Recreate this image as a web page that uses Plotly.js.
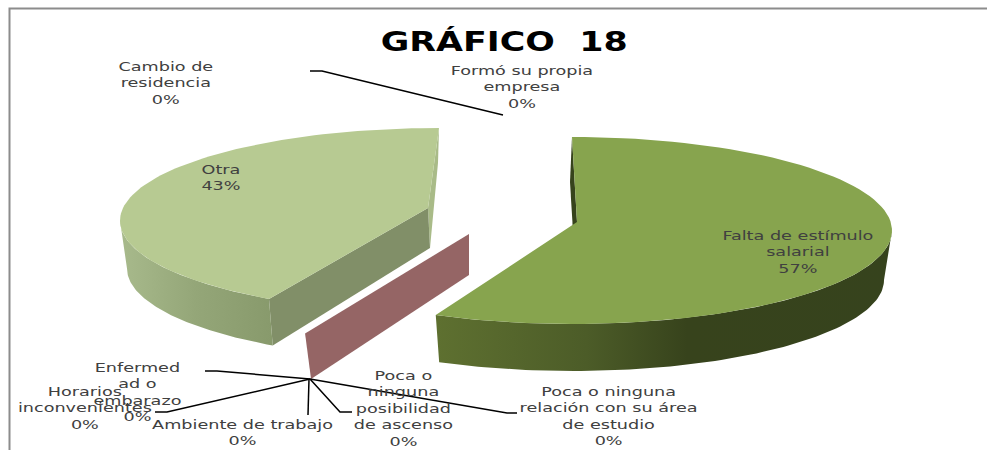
<!DOCTYPE html>
<html><head><meta charset="utf-8">
<script src="https://cdn.plot.ly/plotly-3.0.1.min.js"></script>
<style>html,body{margin:0;padding:0;background:#fff}#c{width:987px;height:450px}</style>
</head><body><div id="c"></div>
<script>
const categories = ["Falta de estímulo salarial","Otra","Poca o ninguna relación con su área de estudio"];
const values = [57,43,0];
const topColors = ["#87A44E","#B7CA92"];
const slices = [
 {top:{cx:572,cy:230.5,rx:320,ry:93.5},bot:{cx:572,cy:280,rx:312,ry:91},apex:[577,222],offset:[0,0],
  wall:[[0,"#5E7030"],[0.33,"#4C5C28"],[0.55,"#37431C"],[1,"#36431D"]],inner:"#36431C",cut:"#5E7030"},
 {top:{cx:439,cy:220.6,rx:319,ry:92.6},bot:{cx:439,cy:268.5,rx:312,ry:91},apex:[428,208],offset:[7,0],
  wall:[[0,"#A8BA8C"],[0.5,"#94A678"],[1,"#889A6C"]],inner:"#A9BB88",cut:"#818F68"}
];
const title = "GRÁFICO  18";
const labels = [
 {t:"Cambio de<br>residencia<br>0%",x:166,y:83},
 {t:"Formó su propia<br>empresa<br>0%",x:522,y:87},
 {t:"Otra<br>43%",x:221,y:177},
 {t:"Falta de estímulo<br>salarial<br>57%",x:798,y:252},
 {t:"Enfermed<br>ad o<br>embarazo<br>0%",x:137,y:392},
 {t:"Horarios<br>inconvenientes<br>0%",x:85,y:408},
 {t:"Ambiente de trabajo<br>0%",x:243,y:432},
 {t:"Poca o<br>ninguna<br>posibilidad<br>de ascenso<br>0%",x:403,y:408},
 {t:"Poca o ninguna<br>relación con su área<br>de estudio<br>0%",x:608,y:416}
];
const leaders = [
 [[310,322,503],[71,71,115]],
 [[205,217,310],[371,371,379]],
 [[155,167,310],[412,412,379]],
 [[308,309],[415,379]],
 [[352,340,310],[412,412,379]],
 [[517,507,310],[413,413,379]]
];
const D = Math.PI/180, STEPS = 90;
function pt(e,deg){return [e.cx+e.rx*Math.sin(deg*D), e.cy-e.ry*Math.cos(deg*D)];}
function arc(e,a,b){const o=[];for(let i=0;i<=STEPS;i++){o.push(pt(e,a+(b-a)*i/STEPS));}return o;}
function poly(points,fill,extra){const xs=points.map(p=>p[0]),ys=points.map(p=>p[1]);xs.push(xs[0]);ys.push(ys[0]);
 return Object.assign({type:"scatter",mode:"lines",x:xs,y:ys,fill:"toself",fillcolor:fill,line:{width:0,color:fill},hoverinfo:"skip",showlegend:false},extra||{});}
const total = values.reduce((a,b)=>a+b,0);
const traces = [];
let cum = 0;
const angles = values.map(v=>{const a=cum/total*360;cum+=v;return [a,cum/total*360];});
const zeroA = angles[0][1];
(function(){
 const tE={cx:469,cy:234,rx:385,ry:110}, bE={cx:469,cy:275,rx:371,ry:115};
 traces.push(poly([[tE.cx,tE.cy],[bE.cx,bE.cy],pt(bE,zeroA),pt(tE,zeroA)],"#956565"));
})();
(function(){
 const s=slices[1],a=angles[1][0]+s.offset[0],b=angles[1][1];
 const tEnd=pt(s.top,b), tA=pt(s.top,a), bA=pt(s.bot,a);
 const apexB=[430,248];
 traces.push(poly([tEnd,[438,163],apexB,s.apex],s.inner));
 traces.push(poly([tA,bA,apexB,s.apex],s.cut));
 const wallPts=arc(s.top,a,270).concat(arc(s.bot,a,270).reverse());
 traces.push(poly(wallPts,s.wall[0][1],{fillgradient:{type:"horizontal",colorscale:s.wall.slice(),start:120,stop:272}}));
 traces.push(poly([s.apex].concat(arc(s.top,a,b)),topColors[1]));
})();
(function(){
 const s=slices[0],a=angles[0][0],b=angles[0][1];
 traces.push(poly([pt(s.top,a),[570,182],[575,265],s.apex],s.inner));
 const wallPts=arc(s.top,90,b).concat(arc(s.bot,90,b).reverse());
 traces.push(poly(wallPts,s.wall[0][1],{fillgradient:{type:"horizontal",colorscale:s.wall.slice().reverse().map(c=>[1-c[0],c[1]]),start:892,stop:437}}));
 traces.push(poly([s.apex].concat(arc(s.top,a,b)),topColors[0]));
})();
leaders.forEach(l=>traces.push({type:"scatter",mode:"lines",x:l[0],y:l[1],line:{color:"#000",width:1.5},hoverinfo:"skip",showlegend:false}));
const annotations = labels.map(l=>({x:l.x,y:l.y,xref:"x",yref:"y",text:l.t,showarrow:false,align:"center",xanchor:"center",yanchor:"middle",font:{family:"DejaVu Sans",size:12.6,color:"#404040"}}));
annotations.push({x:503.5,y:41,xref:"x",yref:"y",text:"<b>"+title+"</b>",showarrow:false,xanchor:"center",yanchor:"middle",font:{family:"DejaVu Sans",size:26,color:"#000"}});
const layout = {width:987,height:450,margin:{l:0,r:0,t:0,b:0},paper_bgcolor:"#fff",plot_bgcolor:"#fff",showlegend:false,
 xaxis:{range:[0,987],visible:false,fixedrange:true},yaxis:{range:[450,0],visible:false,fixedrange:true},
 annotations:annotations,
 shapes:[{type:"path",path:"M 9.5 450 L 9.5 8.5 L 987 8.5",xref:"x",yref:"y",line:{color:"#8C8C8C",width:2}}]};
Plotly.newPlot("c",traces,layout,{displayModeBar:false,staticPlot:true}).then(()=>{
 // The reference's text is stretched horizontally: widen each text about its centre.
 document.querySelectorAll("#c .annotation-text").forEach(t=>{
  const b=t.getBBox(), cx=b.x+b.width/2, isTitle=t.textContent.indexOf("GR")===0;
  const sx=isTitle?247/b.width:1.40;
  t.setAttribute("transform","translate("+cx+",0) scale("+sx+",1) translate("+(-cx)+",0)");
 });
});
</script></body></html>
